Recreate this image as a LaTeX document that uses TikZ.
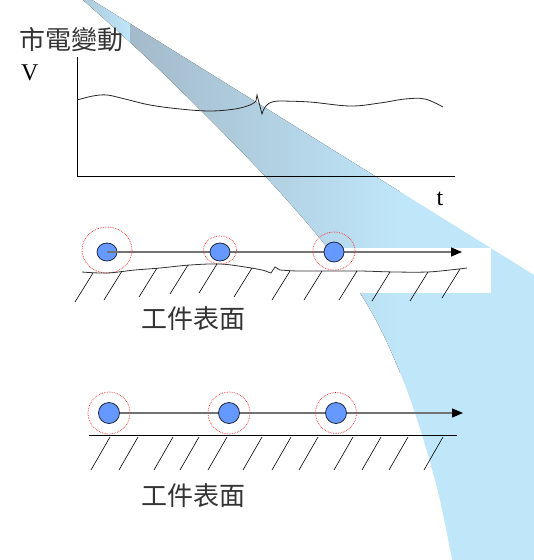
\documentclass[tikz,border=0pt]{standalone}
\usepackage{fontspec}
\setmainfont{Liberation Serif}
\newfontfamily\cjk{Noto Sans CJK TC}
\usetikzlibrary{arrows.meta,shapes.geometric}
\pgfdeclarelayer{bglayer}
\pgfdeclarelayer{midlayer}
\pgfsetlayers{bglayer,midlayer,main}
\definecolor{wedgeA}{HTML}{A3BACA}
\definecolor{wedgeB}{HTML}{BFE6F9}
\definecolor{ballfill}{HTML}{6699FF}
\definecolor{ballline}{HTML}{1F2A44}
\tikzset{
  ball/.style={ellipse, draw=ballline, fill=ballfill, line width=0.8pt, inner sep=0pt},
  halo/.style={ellipse, draw=red!85!white, densely dotted, line width=0.7pt, inner sep=0pt},
  arrowline/.style={draw=black!55, line width=1.3pt, -{Triangle[length=11pt,width=9pt,fill=black,color=black]}},
  surface/.style={draw=black!80, line width=0.8pt},
  hatch/.style={draw=black, line width=0.6pt},
  axis/.style={draw=black, line width=0.9pt},
  cjklabel/.style={font=\cjk\fontsize{26}{30}\selectfont, text=black!80, inner sep=0pt},
  latinlabel/.style={font=\fontsize{24}{28}\selectfont, inner sep=0pt}
}
\begin{document}
\begin{tikzpicture}[x=1pt,y=-1pt]
\useasboundingbox (0,0) rectangle (534,560);
\begin{pgfonlayer}{bglayer}
\fill[white] (0,0) rectangle (534,560);
% background wedge
\begin{scope}
  \clip (83,0) -- (92,0) -- (534,275) -- (534,560) -- (452,560)
    -- plot[smooth, tension=0.6] coordinates {(452,560) (435,480) (403,380) (360,293) (287,200) (170,80) (83,0)} -- cycle;
  \fill[left color=wedgeA!70!wedgeB, right color=wedgeB] (80,0) rectangle (130,560);
  \fill[left color=wedgeA, right color=wedgeB] (130,0) rectangle (400,560);
  \fill[wedgeB] (400,0) rectangle (534,560);
\end{scope}
\fill[white] (70,248) rectangle (491,293);
\end{pgfonlayer}

% ---- top chart ----
\node[cjklabel, anchor=west] (title) at (19,40) {市電變動};
\node[latinlabel, anchor=base west] (vlab) at (21,80) {V};
\node[latinlabel, anchor=base] (tlab) at (440,205) {t};
\coordinate (origin) at (77,176);
\coordinate (ytop) at (77,57);
\coordinate (xend) at (455,176);
\draw[axis] (ytop) -- (origin) -- (xend);
\draw[line width=0.8pt, black!85]
  plot[smooth, tension=0.6] coordinates {(77,100) (93,96) (107,95) (125,99) (150,105) (180,109) (210,111) (235,109) (250,105) (256,101)}
  -- (257,95) -- (262,114) .. controls (265,104) and (270,101) .. (280,101)
  -- plot[smooth, tension=0.6] coordinates {(280,101) (310,102) (350,106) (380,103) (405,99) (425,99) (443,107)};

% ---- row 1 (rough surface) ----
\node[halo, minimum width=50pt, minimum height=46pt] (h1) at (107,250) {};
\node[halo, minimum width=33pt, minimum height=28pt] (h2) at (220,250) {};
\node[halo, minimum width=42pt, minimum height=38pt] (h3) at (334,251) {};
\begin{pgfonlayer}{midlayer}
\node[ball, minimum width=20pt, minimum height=18pt] (b1) at (107,252) {};
\coordinate (e1) at (462,252);
\draw[arrowline] (b1.center) -- (e1);
\end{pgfonlayer}
\node[ball, minimum width=20pt, minimum height=18pt] (b2) at (220,252) {};
\node[ball, minimum width=20pt, minimum height=20pt] (b3) at (334,252) {};
\draw[surface]
  plot[smooth, tension=0.6] coordinates {(82,272) (107,273) (135,270) (160,268) (190,265) (220,264) (245,267) (262,270) (268,272)}
  -- (271,273) -- (275,267) -- (280,270)
  -- plot[smooth, tension=0.6] coordinates {(280,270) (298,271) (330,271) (360,271) (395,272) (427,272) (450,270) (467,268)};
\foreach \xt/\yt in {93/273,122/271,157/268,188/265,217/264,252/268,290/271,322/271,357/271,390/272,428/272,460/269}
  \draw[hatch] (\xt,\yt) -- ++(-18,29);
\node[cjklabel] (lab1) at (193,319) {工件表面};

% ---- row 2 (flat surface) ----
\node[halo, minimum width=42pt, minimum height=42pt] (k1) at (109,413) {};
\node[halo, minimum width=42pt, minimum height=42pt] (k2) at (229,413) {};
\node[halo, minimum width=41pt, minimum height=41pt] (k3) at (336,413) {};
\node[ball, minimum width=21pt, minimum height=21pt] (c1) at (109,413) {};
\node[ball, minimum width=21pt, minimum height=21pt] (c2) at (229,413) {};
\node[ball, minimum width=21pt, minimum height=21pt] (c3) at (336,413) {};
\coordinate (e2) at (463,413);
\begin{pgfonlayer}{midlayer}
\draw[arrowline] (c1.east) -- (e2);
\end{pgfonlayer}
\coordinate (s2a) at (89,435);
\coordinate (s2b) at (457,435);
\draw[line width=1pt] (s2a) -- (s2b);
\foreach \xt in {110,138,173,199,227,262,291,318,353,381,408,443}
  \draw[hatch] (\xt,437) -- ++(-19,33);
\node[cjklabel] (lab2) at (193,496) {工件表面};
\end{tikzpicture}
\end{document}
